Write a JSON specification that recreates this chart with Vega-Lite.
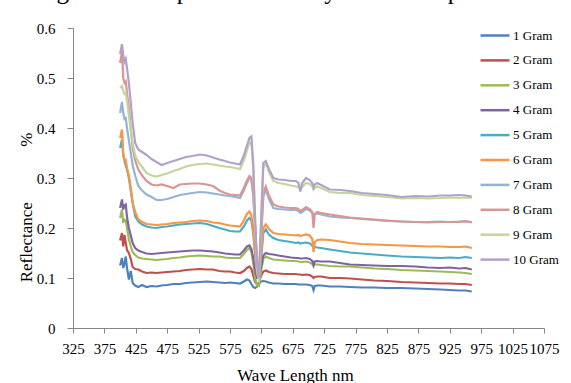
{
"$schema": "https://vega.github.io/schema/vega-lite/v6.json",
"width": 471, "height": 300,
"autosize": {"type": "none"},
"padding": {"left": 73, "top": 28, "right": 27, "bottom": 55},
"background": "white",
"config": {"view": {"stroke": null}, "font": "Liberation Serif, DejaVu Serif, serif"},
"title": {"text": "of magnesium sulphate. This may due to the presence of", "anchor": "start", "frame": "group", "fontSize": 25, "fontWeight": "normal", "font": "Liberation Serif, DejaVu Serif, serif", "color": "#000000", "baseline": "alphabetic", "offset": 5, "dy": 8, "dx": -74},
"data": {"values": [
{"w":400,"s":"1 Gram","v":0.125},{"w":403,"s":"1 Gram","v":0.14},{"w":405,"s":"1 Gram","v":0.12},{"w":407,"s":"1 Gram","v":0.128},{"w":409,"s":"1 Gram","v":0.143},{"w":411,"s":"1 Gram","v":0.12},{"w":414,"s":"1 Gram","v":0.097},{"w":417,"s":"1 Gram","v":0.114},{"w":420,"s":"1 Gram","v":0.09},{"w":424,"s":"1 Gram","v":0.085},
{"w":429,"s":"1 Gram","v":0.082},{"w":435,"s":"1 Gram","v":0.086},{"w":442,"s":"1 Gram","v":0.082},{"w":450,"s":"1 Gram","v":0.084},{"w":458,"s":"1 Gram","v":0.083},{"w":466,"s":"1 Gram","v":0.085},{"w":475,"s":"1 Gram","v":0.086},{"w":485,"s":"1 Gram","v":0.088},{"w":495,"s":"1 Gram","v":0.088},{"w":505,"s":"1 Gram","v":0.09},
{"w":515,"s":"1 Gram","v":0.091},{"w":527,"s":"1 Gram","v":0.092},{"w":538,"s":"1 Gram","v":0.093},{"w":548,"s":"1 Gram","v":0.092},{"w":558,"s":"1 Gram","v":0.091},{"w":567,"s":"1 Gram","v":0.09},{"w":575,"s":"1 Gram","v":0.091},{"w":583,"s":"1 Gram","v":0.09},{"w":591,"s":"1 Gram","v":0.089},{"w":597,"s":"1 Gram","v":0.093},
{"w":602,"s":"1 Gram","v":0.097},{"w":606,"s":"1 Gram","v":0.095},{"w":609,"s":"1 Gram","v":0.088},{"w":612,"s":"1 Gram","v":0.082},{"w":615,"s":"1 Gram","v":0.08},{"w":618,"s":"1 Gram","v":0.083},{"w":621,"s":"1 Gram","v":0.088},{"w":624,"s":"1 Gram","v":0.093},{"w":628,"s":"1 Gram","v":0.094},{"w":632,"s":"1 Gram","v":0.093},
{"w":637,"s":"1 Gram","v":0.091},{"w":644,"s":"1 Gram","v":0.089},{"w":652,"s":"1 Gram","v":0.089},{"w":662,"s":"1 Gram","v":0.088},{"w":672,"s":"1 Gram","v":0.088},{"w":680,"s":"1 Gram","v":0.088},{"w":684,"s":"1 Gram","v":0.087},{"w":687,"s":"1 Gram","v":0.087},{"w":690,"s":"1 Gram","v":0.087},{"w":696,"s":"1 Gram","v":0.087},
{"w":702,"s":"1 Gram","v":0.086},{"w":706,"s":"1 Gram","v":0.084},{"w":708,"s":"1 Gram","v":0.076},{"w":710,"s":"1 Gram","v":0.084},{"w":714,"s":"1 Gram","v":0.085},{"w":720,"s":"1 Gram","v":0.085},{"w":734,"s":"1 Gram","v":0.083},{"w":750,"s":"1 Gram","v":0.083},{"w":766,"s":"1 Gram","v":0.082},{"w":785,"s":"1 Gram","v":0.081},
{"w":805,"s":"1 Gram","v":0.081},{"w":825,"s":"1 Gram","v":0.08},{"w":848,"s":"1 Gram","v":0.08},{"w":870,"s":"1 Gram","v":0.079},{"w":890,"s":"1 Gram","v":0.078},{"w":910,"s":"1 Gram","v":0.077},{"w":925,"s":"1 Gram","v":0.076},{"w":940,"s":"1 Gram","v":0.075},{"w":950,"s":"1 Gram","v":0.075},{"w":960,"s":"1 Gram","v":0.073},

{"w":400,"s":"2 Gram","v":0.175},{"w":403,"s":"2 Gram","v":0.19},{"w":405,"s":"2 Gram","v":0.163},{"w":407,"s":"2 Gram","v":0.186},{"w":409,"s":"2 Gram","v":0.17},{"w":411,"s":"2 Gram","v":0.156},{"w":414,"s":"2 Gram","v":0.15},{"w":417,"s":"2 Gram","v":0.138},{"w":420,"s":"2 Gram","v":0.122},{"w":424,"s":"2 Gram","v":0.118},
{"w":429,"s":"2 Gram","v":0.117},{"w":435,"s":"2 Gram","v":0.113},{"w":442,"s":"2 Gram","v":0.11},{"w":450,"s":"2 Gram","v":0.111},{"w":458,"s":"2 Gram","v":0.11},{"w":466,"s":"2 Gram","v":0.111},{"w":475,"s":"2 Gram","v":0.112},{"w":485,"s":"2 Gram","v":0.113},{"w":495,"s":"2 Gram","v":0.114},{"w":505,"s":"2 Gram","v":0.116},
{"w":515,"s":"2 Gram","v":0.117},{"w":527,"s":"2 Gram","v":0.118},{"w":538,"s":"2 Gram","v":0.117},{"w":548,"s":"2 Gram","v":0.117},{"w":558,"s":"2 Gram","v":0.114},{"w":567,"s":"2 Gram","v":0.113},{"w":575,"s":"2 Gram","v":0.113},{"w":583,"s":"2 Gram","v":0.111},{"w":591,"s":"2 Gram","v":0.11},{"w":597,"s":"2 Gram","v":0.114},
{"w":602,"s":"2 Gram","v":0.12},{"w":606,"s":"2 Gram","v":0.123},{"w":609,"s":"2 Gram","v":0.118},{"w":612,"s":"2 Gram","v":0.105},{"w":615,"s":"2 Gram","v":0.092},{"w":618,"s":"2 Gram","v":0.088},{"w":621,"s":"2 Gram","v":0.09},{"w":624,"s":"2 Gram","v":0.103},{"w":628,"s":"2 Gram","v":0.113},{"w":632,"s":"2 Gram","v":0.115},
{"w":637,"s":"2 Gram","v":0.112},{"w":644,"s":"2 Gram","v":0.11},{"w":652,"s":"2 Gram","v":0.109},{"w":662,"s":"2 Gram","v":0.108},{"w":672,"s":"2 Gram","v":0.108},{"w":680,"s":"2 Gram","v":0.108},{"w":684,"s":"2 Gram","v":0.107},{"w":687,"s":"2 Gram","v":0.107},{"w":690,"s":"2 Gram","v":0.106},{"w":696,"s":"2 Gram","v":0.107},
{"w":702,"s":"2 Gram","v":0.106},{"w":706,"s":"2 Gram","v":0.103},{"w":708,"s":"2 Gram","v":0.1},{"w":710,"s":"2 Gram","v":0.102},{"w":714,"s":"2 Gram","v":0.103},{"w":720,"s":"2 Gram","v":0.103},{"w":734,"s":"2 Gram","v":0.1},{"w":750,"s":"2 Gram","v":0.1},{"w":766,"s":"2 Gram","v":0.099},{"w":785,"s":"2 Gram","v":0.097},
{"w":805,"s":"2 Gram","v":0.095},{"w":825,"s":"2 Gram","v":0.094},{"w":848,"s":"2 Gram","v":0.092},{"w":870,"s":"2 Gram","v":0.091},{"w":890,"s":"2 Gram","v":0.09},{"w":910,"s":"2 Gram","v":0.089},{"w":925,"s":"2 Gram","v":0.089},{"w":940,"s":"2 Gram","v":0.088},{"w":950,"s":"2 Gram","v":0.088},{"w":960,"s":"2 Gram","v":0.086},

{"w":400,"s":"3 Gram","v":0.22},{"w":403,"s":"3 Gram","v":0.237},{"w":405,"s":"3 Gram","v":0.21},{"w":407,"s":"3 Gram","v":0.217},{"w":409,"s":"3 Gram","v":0.215},{"w":411,"s":"3 Gram","v":0.2},{"w":414,"s":"3 Gram","v":0.177},{"w":417,"s":"3 Gram","v":0.163},{"w":420,"s":"3 Gram","v":0.152},{"w":424,"s":"3 Gram","v":0.146},
{"w":429,"s":"3 Gram","v":0.141},{"w":435,"s":"3 Gram","v":0.139},{"w":442,"s":"3 Gram","v":0.138},{"w":450,"s":"3 Gram","v":0.137},{"w":458,"s":"3 Gram","v":0.136},{"w":466,"s":"3 Gram","v":0.137},{"w":475,"s":"3 Gram","v":0.138},{"w":485,"s":"3 Gram","v":0.14},{"w":495,"s":"3 Gram","v":0.141},{"w":505,"s":"3 Gram","v":0.143},
{"w":515,"s":"3 Gram","v":0.144},{"w":527,"s":"3 Gram","v":0.145},{"w":538,"s":"3 Gram","v":0.144},{"w":548,"s":"3 Gram","v":0.143},{"w":558,"s":"3 Gram","v":0.143},{"w":567,"s":"3 Gram","v":0.141},{"w":575,"s":"3 Gram","v":0.14},{"w":583,"s":"3 Gram","v":0.14},{"w":591,"s":"3 Gram","v":0.14},{"w":597,"s":"3 Gram","v":0.148},
{"w":602,"s":"3 Gram","v":0.156},{"w":606,"s":"3 Gram","v":0.16},{"w":609,"s":"3 Gram","v":0.152},{"w":612,"s":"3 Gram","v":0.13},{"w":615,"s":"3 Gram","v":0.1},{"w":618,"s":"3 Gram","v":0.085},{"w":621,"s":"3 Gram","v":0.084},{"w":624,"s":"3 Gram","v":0.11},{"w":628,"s":"3 Gram","v":0.138},{"w":632,"s":"3 Gram","v":0.143},
{"w":637,"s":"3 Gram","v":0.14},{"w":644,"s":"3 Gram","v":0.137},{"w":652,"s":"3 Gram","v":0.136},{"w":662,"s":"3 Gram","v":0.135},{"w":672,"s":"3 Gram","v":0.134},{"w":680,"s":"3 Gram","v":0.134},{"w":684,"s":"3 Gram","v":0.133},{"w":687,"s":"3 Gram","v":0.132},{"w":690,"s":"3 Gram","v":0.132},{"w":696,"s":"3 Gram","v":0.133},
{"w":702,"s":"3 Gram","v":0.131},{"w":706,"s":"3 Gram","v":0.128},{"w":708,"s":"3 Gram","v":0.125},{"w":710,"s":"3 Gram","v":0.127},{"w":714,"s":"3 Gram","v":0.127},{"w":720,"s":"3 Gram","v":0.126},{"w":734,"s":"3 Gram","v":0.124},{"w":750,"s":"3 Gram","v":0.123},{"w":766,"s":"3 Gram","v":0.123},{"w":785,"s":"3 Gram","v":0.121},
{"w":805,"s":"3 Gram","v":0.119},{"w":825,"s":"3 Gram","v":0.118},{"w":848,"s":"3 Gram","v":0.116},{"w":870,"s":"3 Gram","v":0.115},{"w":890,"s":"3 Gram","v":0.114},{"w":910,"s":"3 Gram","v":0.113},{"w":925,"s":"3 Gram","v":0.112},{"w":940,"s":"3 Gram","v":0.111},{"w":950,"s":"3 Gram","v":0.11},{"w":960,"s":"3 Gram","v":0.108},

{"w":400,"s":"4 Gram","v":0.24},{"w":403,"s":"4 Gram","v":0.257},{"w":405,"s":"4 Gram","v":0.237},{"w":407,"s":"4 Gram","v":0.245},{"w":409,"s":"4 Gram","v":0.247},{"w":411,"s":"4 Gram","v":0.222},{"w":414,"s":"4 Gram","v":0.2},{"w":417,"s":"4 Gram","v":0.185},{"w":420,"s":"4 Gram","v":0.17},{"w":424,"s":"4 Gram","v":0.16},
{"w":429,"s":"4 Gram","v":0.155},{"w":435,"s":"4 Gram","v":0.152},{"w":442,"s":"4 Gram","v":0.149},{"w":450,"s":"4 Gram","v":0.148},{"w":458,"s":"4 Gram","v":0.149},{"w":466,"s":"4 Gram","v":0.15},{"w":475,"s":"4 Gram","v":0.151},{"w":485,"s":"4 Gram","v":0.152},{"w":495,"s":"4 Gram","v":0.153},{"w":505,"s":"4 Gram","v":0.154},
{"w":515,"s":"4 Gram","v":0.155},{"w":527,"s":"4 Gram","v":0.155},{"w":538,"s":"4 Gram","v":0.154},{"w":548,"s":"4 Gram","v":0.153},{"w":558,"s":"4 Gram","v":0.151},{"w":567,"s":"4 Gram","v":0.149},{"w":575,"s":"4 Gram","v":0.148},{"w":583,"s":"4 Gram","v":0.147},{"w":591,"s":"4 Gram","v":0.147},{"w":597,"s":"4 Gram","v":0.155},
{"w":602,"s":"4 Gram","v":0.163},{"w":606,"s":"4 Gram","v":0.165},{"w":609,"s":"4 Gram","v":0.158},{"w":612,"s":"4 Gram","v":0.14},{"w":615,"s":"4 Gram","v":0.115},{"w":618,"s":"4 Gram","v":0.1},{"w":621,"s":"4 Gram","v":0.1},{"w":624,"s":"4 Gram","v":0.12},{"w":628,"s":"4 Gram","v":0.145},{"w":632,"s":"4 Gram","v":0.15},
{"w":637,"s":"4 Gram","v":0.148},{"w":644,"s":"4 Gram","v":0.147},{"w":652,"s":"4 Gram","v":0.145},{"w":662,"s":"4 Gram","v":0.143},{"w":672,"s":"4 Gram","v":0.141},{"w":680,"s":"4 Gram","v":0.14},{"w":684,"s":"4 Gram","v":0.14},{"w":687,"s":"4 Gram","v":0.139},{"w":690,"s":"4 Gram","v":0.139},{"w":696,"s":"4 Gram","v":0.14},
{"w":702,"s":"4 Gram","v":0.138},{"w":706,"s":"4 Gram","v":0.134},{"w":708,"s":"4 Gram","v":0.125},{"w":710,"s":"4 Gram","v":0.133},{"w":714,"s":"4 Gram","v":0.134},{"w":720,"s":"4 Gram","v":0.133},{"w":734,"s":"4 Gram","v":0.133},{"w":750,"s":"4 Gram","v":0.13},{"w":766,"s":"4 Gram","v":0.127},{"w":785,"s":"4 Gram","v":0.126},
{"w":805,"s":"4 Gram","v":0.125},{"w":825,"s":"4 Gram","v":0.124},{"w":848,"s":"4 Gram","v":0.124},{"w":870,"s":"4 Gram","v":0.123},{"w":890,"s":"4 Gram","v":0.121},{"w":910,"s":"4 Gram","v":0.12},{"w":925,"s":"4 Gram","v":0.121},{"w":940,"s":"4 Gram","v":0.119},{"w":950,"s":"4 Gram","v":0.12},{"w":960,"s":"4 Gram","v":0.117},

{"w":400,"s":"5 Gram","v":0.36},{"w":403,"s":"5 Gram","v":0.377},{"w":405,"s":"5 Gram","v":0.345},{"w":407,"s":"5 Gram","v":0.335},{"w":409,"s":"5 Gram","v":0.325},{"w":411,"s":"5 Gram","v":0.317},{"w":414,"s":"5 Gram","v":0.3},{"w":417,"s":"5 Gram","v":0.275},{"w":420,"s":"5 Gram","v":0.25},{"w":424,"s":"5 Gram","v":0.224},
{"w":429,"s":"5 Gram","v":0.213},{"w":435,"s":"5 Gram","v":0.207},{"w":442,"s":"5 Gram","v":0.203},{"w":450,"s":"5 Gram","v":0.201},{"w":458,"s":"5 Gram","v":0.2},{"w":466,"s":"5 Gram","v":0.202},{"w":475,"s":"5 Gram","v":0.203},{"w":485,"s":"5 Gram","v":0.205},{"w":495,"s":"5 Gram","v":0.207},{"w":505,"s":"5 Gram","v":0.208},
{"w":515,"s":"5 Gram","v":0.209},{"w":527,"s":"5 Gram","v":0.21},{"w":538,"s":"5 Gram","v":0.208},{"w":548,"s":"5 Gram","v":0.204},{"w":558,"s":"5 Gram","v":0.2},{"w":567,"s":"5 Gram","v":0.197},{"w":575,"s":"5 Gram","v":0.194},{"w":583,"s":"5 Gram","v":0.193},{"w":591,"s":"5 Gram","v":0.193},{"w":597,"s":"5 Gram","v":0.203},
{"w":602,"s":"5 Gram","v":0.215},{"w":606,"s":"5 Gram","v":0.22},{"w":609,"s":"5 Gram","v":0.215},{"w":612,"s":"5 Gram","v":0.19},{"w":615,"s":"5 Gram","v":0.145},{"w":618,"s":"5 Gram","v":0.11},{"w":621,"s":"5 Gram","v":0.1},{"w":624,"s":"5 Gram","v":0.13},{"w":628,"s":"5 Gram","v":0.19},{"w":632,"s":"5 Gram","v":0.197},
{"w":637,"s":"5 Gram","v":0.187},{"w":644,"s":"5 Gram","v":0.18},{"w":652,"s":"5 Gram","v":0.176},{"w":662,"s":"5 Gram","v":0.174},{"w":672,"s":"5 Gram","v":0.172},{"w":680,"s":"5 Gram","v":0.17},{"w":684,"s":"5 Gram","v":0.171},{"w":687,"s":"5 Gram","v":0.169},{"w":690,"s":"5 Gram","v":0.17},{"w":696,"s":"5 Gram","v":0.171},
{"w":702,"s":"5 Gram","v":0.169},{"w":706,"s":"5 Gram","v":0.165},{"w":708,"s":"5 Gram","v":0.16},{"w":710,"s":"5 Gram","v":0.162},{"w":714,"s":"5 Gram","v":0.161},{"w":720,"s":"5 Gram","v":0.16},{"w":734,"s":"5 Gram","v":0.157},{"w":750,"s":"5 Gram","v":0.154},{"w":766,"s":"5 Gram","v":0.151},{"w":785,"s":"5 Gram","v":0.149},
{"w":805,"s":"5 Gram","v":0.147},{"w":825,"s":"5 Gram","v":0.145},{"w":848,"s":"5 Gram","v":0.143},{"w":870,"s":"5 Gram","v":0.142},{"w":890,"s":"5 Gram","v":0.141},{"w":910,"s":"5 Gram","v":0.14},{"w":925,"s":"5 Gram","v":0.141},{"w":940,"s":"5 Gram","v":0.14},{"w":950,"s":"5 Gram","v":0.142},{"w":960,"s":"5 Gram","v":0.14},

{"w":400,"s":"6 Gram","v":0.38},{"w":403,"s":"6 Gram","v":0.397},{"w":405,"s":"6 Gram","v":0.35},{"w":407,"s":"6 Gram","v":0.334},{"w":409,"s":"6 Gram","v":0.336},{"w":411,"s":"6 Gram","v":0.32},{"w":414,"s":"6 Gram","v":0.305},{"w":417,"s":"6 Gram","v":0.28},{"w":420,"s":"6 Gram","v":0.25},{"w":424,"s":"6 Gram","v":0.232},
{"w":429,"s":"6 Gram","v":0.217},{"w":435,"s":"6 Gram","v":0.212},{"w":442,"s":"6 Gram","v":0.208},{"w":450,"s":"6 Gram","v":0.207},{"w":458,"s":"6 Gram","v":0.206},{"w":466,"s":"6 Gram","v":0.207},{"w":475,"s":"6 Gram","v":0.208},{"w":485,"s":"6 Gram","v":0.21},{"w":495,"s":"6 Gram","v":0.211},{"w":505,"s":"6 Gram","v":0.212},
{"w":515,"s":"6 Gram","v":0.214},{"w":527,"s":"6 Gram","v":0.215},{"w":538,"s":"6 Gram","v":0.214},{"w":548,"s":"6 Gram","v":0.211},{"w":558,"s":"6 Gram","v":0.21},{"w":567,"s":"6 Gram","v":0.207},{"w":575,"s":"6 Gram","v":0.205},{"w":583,"s":"6 Gram","v":0.204},{"w":591,"s":"6 Gram","v":0.203},{"w":597,"s":"6 Gram","v":0.215},
{"w":602,"s":"6 Gram","v":0.228},{"w":606,"s":"6 Gram","v":0.233},{"w":609,"s":"6 Gram","v":0.226},{"w":612,"s":"6 Gram","v":0.2},{"w":615,"s":"6 Gram","v":0.15},{"w":618,"s":"6 Gram","v":0.11},{"w":621,"s":"6 Gram","v":0.1},{"w":624,"s":"6 Gram","v":0.14},{"w":628,"s":"6 Gram","v":0.2},{"w":632,"s":"6 Gram","v":0.207},
{"w":637,"s":"6 Gram","v":0.198},{"w":644,"s":"6 Gram","v":0.19},{"w":652,"s":"6 Gram","v":0.188},{"w":662,"s":"6 Gram","v":0.187},{"w":672,"s":"6 Gram","v":0.186},{"w":680,"s":"6 Gram","v":0.185},{"w":684,"s":"6 Gram","v":0.186},{"w":687,"s":"6 Gram","v":0.184},{"w":690,"s":"6 Gram","v":0.185},{"w":696,"s":"6 Gram","v":0.187},
{"w":702,"s":"6 Gram","v":0.185},{"w":706,"s":"6 Gram","v":0.178},{"w":708,"s":"6 Gram","v":0.152},{"w":710,"s":"6 Gram","v":0.172},{"w":714,"s":"6 Gram","v":0.176},{"w":720,"s":"6 Gram","v":0.177},{"w":734,"s":"6 Gram","v":0.176},{"w":750,"s":"6 Gram","v":0.173},{"w":766,"s":"6 Gram","v":0.17},{"w":785,"s":"6 Gram","v":0.168},
{"w":805,"s":"6 Gram","v":0.167},{"w":825,"s":"6 Gram","v":0.166},{"w":848,"s":"6 Gram","v":0.165},{"w":870,"s":"6 Gram","v":0.164},{"w":890,"s":"6 Gram","v":0.163},{"w":910,"s":"6 Gram","v":0.163},{"w":925,"s":"6 Gram","v":0.162},{"w":940,"s":"6 Gram","v":0.162},{"w":950,"s":"6 Gram","v":0.163},{"w":960,"s":"6 Gram","v":0.16},

{"w":400,"s":"7 Gram","v":0.43},{"w":403,"s":"7 Gram","v":0.452},{"w":405,"s":"7 Gram","v":0.43},{"w":407,"s":"7 Gram","v":0.418},{"w":409,"s":"7 Gram","v":0.42},{"w":411,"s":"7 Gram","v":0.4},{"w":414,"s":"7 Gram","v":0.375},{"w":417,"s":"7 Gram","v":0.35},{"w":420,"s":"7 Gram","v":0.325},{"w":424,"s":"7 Gram","v":0.305},
{"w":429,"s":"7 Gram","v":0.284},{"w":435,"s":"7 Gram","v":0.275},{"w":442,"s":"7 Gram","v":0.267},{"w":450,"s":"7 Gram","v":0.262},{"w":458,"s":"7 Gram","v":0.256},{"w":466,"s":"7 Gram","v":0.256},{"w":475,"s":"7 Gram","v":0.258},{"w":485,"s":"7 Gram","v":0.262},{"w":495,"s":"7 Gram","v":0.266},{"w":505,"s":"7 Gram","v":0.268},
{"w":515,"s":"7 Gram","v":0.27},{"w":527,"s":"7 Gram","v":0.272},{"w":538,"s":"7 Gram","v":0.271},{"w":548,"s":"7 Gram","v":0.269},{"w":558,"s":"7 Gram","v":0.267},{"w":567,"s":"7 Gram","v":0.265},{"w":575,"s":"7 Gram","v":0.264},{"w":583,"s":"7 Gram","v":0.262},{"w":591,"s":"7 Gram","v":0.26},{"w":597,"s":"7 Gram","v":0.275},
{"w":602,"s":"7 Gram","v":0.29},{"w":606,"s":"7 Gram","v":0.3},{"w":609,"s":"7 Gram","v":0.297},{"w":612,"s":"7 Gram","v":0.265},{"w":615,"s":"7 Gram","v":0.2},{"w":618,"s":"7 Gram","v":0.13},{"w":621,"s":"7 Gram","v":0.1},{"w":624,"s":"7 Gram","v":0.165},{"w":628,"s":"7 Gram","v":0.262},{"w":632,"s":"7 Gram","v":0.277},
{"w":637,"s":"7 Gram","v":0.258},{"w":644,"s":"7 Gram","v":0.24},{"w":652,"s":"7 Gram","v":0.238},{"w":662,"s":"7 Gram","v":0.237},{"w":672,"s":"7 Gram","v":0.236},{"w":680,"s":"7 Gram","v":0.236},{"w":684,"s":"7 Gram","v":0.234},{"w":687,"s":"7 Gram","v":0.23},{"w":690,"s":"7 Gram","v":0.232},{"w":696,"s":"7 Gram","v":0.238},
{"w":702,"s":"7 Gram","v":0.235},{"w":706,"s":"7 Gram","v":0.23},{"w":708,"s":"7 Gram","v":0.224},{"w":710,"s":"7 Gram","v":0.228},{"w":714,"s":"7 Gram","v":0.229},{"w":720,"s":"7 Gram","v":0.227},{"w":734,"s":"7 Gram","v":0.223},{"w":750,"s":"7 Gram","v":0.221},{"w":766,"s":"7 Gram","v":0.22},{"w":785,"s":"7 Gram","v":0.218},
{"w":805,"s":"7 Gram","v":0.216},{"w":825,"s":"7 Gram","v":0.214},{"w":848,"s":"7 Gram","v":0.213},{"w":870,"s":"7 Gram","v":0.212},{"w":890,"s":"7 Gram","v":0.212},{"w":910,"s":"7 Gram","v":0.213},{"w":925,"s":"7 Gram","v":0.212},{"w":940,"s":"7 Gram","v":0.213},{"w":950,"s":"7 Gram","v":0.214},{"w":960,"s":"7 Gram","v":0.212},

{"w":400,"s":"8 Gram","v":0.53},{"w":403,"s":"8 Gram","v":0.552},{"w":405,"s":"8 Gram","v":0.5},{"w":407,"s":"8 Gram","v":0.49},{"w":409,"s":"8 Gram","v":0.493},{"w":411,"s":"8 Gram","v":0.47},{"w":414,"s":"8 Gram","v":0.44},{"w":417,"s":"8 Gram","v":0.4},{"w":420,"s":"8 Gram","v":0.36},{"w":424,"s":"8 Gram","v":0.335},
{"w":429,"s":"8 Gram","v":0.317},{"w":435,"s":"8 Gram","v":0.305},{"w":442,"s":"8 Gram","v":0.294},{"w":450,"s":"8 Gram","v":0.287},{"w":458,"s":"8 Gram","v":0.285},{"w":466,"s":"8 Gram","v":0.287},{"w":475,"s":"8 Gram","v":0.284},{"w":485,"s":"8 Gram","v":0.28},{"w":495,"s":"8 Gram","v":0.287},{"w":505,"s":"8 Gram","v":0.288},
{"w":515,"s":"8 Gram","v":0.289},{"w":527,"s":"8 Gram","v":0.289},{"w":538,"s":"8 Gram","v":0.287},{"w":548,"s":"8 Gram","v":0.284},{"w":558,"s":"8 Gram","v":0.275},{"w":567,"s":"8 Gram","v":0.27},{"w":575,"s":"8 Gram","v":0.267},{"w":583,"s":"8 Gram","v":0.266},{"w":591,"s":"8 Gram","v":0.265},{"w":597,"s":"8 Gram","v":0.28},
{"w":602,"s":"8 Gram","v":0.295},{"w":606,"s":"8 Gram","v":0.304},{"w":609,"s":"8 Gram","v":0.3},{"w":612,"s":"8 Gram","v":0.27},{"w":615,"s":"8 Gram","v":0.2},{"w":618,"s":"8 Gram","v":0.13},{"w":621,"s":"8 Gram","v":0.105},{"w":624,"s":"8 Gram","v":0.17},{"w":628,"s":"8 Gram","v":0.27},{"w":632,"s":"8 Gram","v":0.283},
{"w":637,"s":"8 Gram","v":0.265},{"w":644,"s":"8 Gram","v":0.247},{"w":652,"s":"8 Gram","v":0.243},{"w":662,"s":"8 Gram","v":0.241},{"w":672,"s":"8 Gram","v":0.24},{"w":680,"s":"8 Gram","v":0.24},{"w":684,"s":"8 Gram","v":0.238},{"w":687,"s":"8 Gram","v":0.234},{"w":690,"s":"8 Gram","v":0.236},{"w":696,"s":"8 Gram","v":0.242},
{"w":702,"s":"8 Gram","v":0.238},{"w":706,"s":"8 Gram","v":0.232},{"w":708,"s":"8 Gram","v":0.2},{"w":710,"s":"8 Gram","v":0.228},{"w":714,"s":"8 Gram","v":0.232},{"w":720,"s":"8 Gram","v":0.23},{"w":734,"s":"8 Gram","v":0.227},{"w":750,"s":"8 Gram","v":0.224},{"w":766,"s":"8 Gram","v":0.221},{"w":785,"s":"8 Gram","v":0.219},
{"w":805,"s":"8 Gram","v":0.217},{"w":825,"s":"8 Gram","v":0.215},{"w":848,"s":"8 Gram","v":0.213},{"w":870,"s":"8 Gram","v":0.212},{"w":890,"s":"8 Gram","v":0.211},{"w":910,"s":"8 Gram","v":0.212},{"w":925,"s":"8 Gram","v":0.212},{"w":940,"s":"8 Gram","v":0.212},{"w":950,"s":"8 Gram","v":0.213},{"w":960,"s":"8 Gram","v":0.211},

{"w":400,"s":"9 Gram","v":0.48},{"w":403,"s":"9 Gram","v":0.484},{"w":405,"s":"9 Gram","v":0.475},{"w":407,"s":"9 Gram","v":0.468},{"w":409,"s":"9 Gram","v":0.47},{"w":411,"s":"9 Gram","v":0.455},{"w":414,"s":"9 Gram","v":0.425},{"w":417,"s":"9 Gram","v":0.395},{"w":420,"s":"9 Gram","v":0.37},{"w":424,"s":"9 Gram","v":0.345},
{"w":429,"s":"9 Gram","v":0.332},{"w":435,"s":"9 Gram","v":0.322},{"w":442,"s":"9 Gram","v":0.31},{"w":450,"s":"9 Gram","v":0.305},{"w":458,"s":"9 Gram","v":0.303},{"w":466,"s":"9 Gram","v":0.306},{"w":475,"s":"9 Gram","v":0.309},{"w":485,"s":"9 Gram","v":0.314},{"w":495,"s":"9 Gram","v":0.318},{"w":505,"s":"9 Gram","v":0.323},
{"w":515,"s":"9 Gram","v":0.326},{"w":527,"s":"9 Gram","v":0.328},{"w":538,"s":"9 Gram","v":0.329},{"w":548,"s":"9 Gram","v":0.327},{"w":558,"s":"9 Gram","v":0.325},{"w":567,"s":"9 Gram","v":0.323},{"w":575,"s":"9 Gram","v":0.322},{"w":583,"s":"9 Gram","v":0.32},{"w":591,"s":"9 Gram","v":0.318},{"w":597,"s":"9 Gram","v":0.335},
{"w":602,"s":"9 Gram","v":0.355},{"w":606,"s":"9 Gram","v":0.37},{"w":609,"s":"9 Gram","v":0.372},{"w":612,"s":"9 Gram","v":0.32},{"w":615,"s":"9 Gram","v":0.21},{"w":618,"s":"9 Gram","v":0.12},{"w":621,"s":"9 Gram","v":0.092},{"w":624,"s":"9 Gram","v":0.19},{"w":628,"s":"9 Gram","v":0.32},{"w":632,"s":"9 Gram","v":0.33},
{"w":637,"s":"9 Gram","v":0.312},{"w":644,"s":"9 Gram","v":0.294},{"w":652,"s":"9 Gram","v":0.29},{"w":662,"s":"9 Gram","v":0.288},{"w":672,"s":"9 Gram","v":0.285},{"w":680,"s":"9 Gram","v":0.283},{"w":684,"s":"9 Gram","v":0.282},{"w":687,"s":"9 Gram","v":0.278},{"w":690,"s":"9 Gram","v":0.282},{"w":696,"s":"9 Gram","v":0.29},
{"w":702,"s":"9 Gram","v":0.288},{"w":706,"s":"9 Gram","v":0.283},{"w":708,"s":"9 Gram","v":0.277},{"w":710,"s":"9 Gram","v":0.28},{"w":714,"s":"9 Gram","v":0.283},{"w":720,"s":"9 Gram","v":0.28},{"w":734,"s":"9 Gram","v":0.272},{"w":750,"s":"9 Gram","v":0.27},{"w":766,"s":"9 Gram","v":0.27},{"w":785,"s":"9 Gram","v":0.266},
{"w":805,"s":"9 Gram","v":0.264},{"w":825,"s":"9 Gram","v":0.262},{"w":848,"s":"9 Gram","v":0.259},{"w":870,"s":"9 Gram","v":0.26},{"w":890,"s":"9 Gram","v":0.259},{"w":910,"s":"9 Gram","v":0.26},{"w":925,"s":"9 Gram","v":0.261},{"w":940,"s":"9 Gram","v":0.26},{"w":950,"s":"9 Gram","v":0.261},{"w":960,"s":"9 Gram","v":0.26},

{"w":400,"s":"10 Gram","v":0.548},{"w":403,"s":"10 Gram","v":0.568},{"w":405,"s":"10 Gram","v":0.545},{"w":407,"s":"10 Gram","v":0.532},{"w":409,"s":"10 Gram","v":0.538},{"w":411,"s":"10 Gram","v":0.52},{"w":414,"s":"10 Gram","v":0.49},{"w":417,"s":"10 Gram","v":0.45},{"w":420,"s":"10 Gram","v":0.41},{"w":424,"s":"10 Gram","v":0.37},
{"w":429,"s":"10 Gram","v":0.357},{"w":435,"s":"10 Gram","v":0.352},{"w":442,"s":"10 Gram","v":0.346},{"w":450,"s":"10 Gram","v":0.338},{"w":458,"s":"10 Gram","v":0.332},{"w":466,"s":"10 Gram","v":0.326},{"w":475,"s":"10 Gram","v":0.33},{"w":485,"s":"10 Gram","v":0.334},{"w":495,"s":"10 Gram","v":0.338},{"w":505,"s":"10 Gram","v":0.342},
{"w":515,"s":"10 Gram","v":0.344},{"w":527,"s":"10 Gram","v":0.347},{"w":538,"s":"10 Gram","v":0.345},{"w":548,"s":"10 Gram","v":0.341},{"w":558,"s":"10 Gram","v":0.337},{"w":567,"s":"10 Gram","v":0.334},{"w":575,"s":"10 Gram","v":0.331},{"w":583,"s":"10 Gram","v":0.329},{"w":591,"s":"10 Gram","v":0.327},{"w":597,"s":"10 Gram","v":0.345},
{"w":602,"s":"10 Gram","v":0.365},{"w":606,"s":"10 Gram","v":0.38},{"w":609,"s":"10 Gram","v":0.383},{"w":612,"s":"10 Gram","v":0.33},{"w":615,"s":"10 Gram","v":0.22},{"w":618,"s":"10 Gram","v":0.13},{"w":621,"s":"10 Gram","v":0.1},{"w":624,"s":"10 Gram","v":0.2},{"w":628,"s":"10 Gram","v":0.33},{"w":632,"s":"10 Gram","v":0.334},
{"w":637,"s":"10 Gram","v":0.318},{"w":644,"s":"10 Gram","v":0.3},{"w":652,"s":"10 Gram","v":0.297},{"w":662,"s":"10 Gram","v":0.296},{"w":672,"s":"10 Gram","v":0.294},{"w":680,"s":"10 Gram","v":0.294},{"w":684,"s":"10 Gram","v":0.29},{"w":687,"s":"10 Gram","v":0.273},{"w":690,"s":"10 Gram","v":0.29},{"w":696,"s":"10 Gram","v":0.3},
{"w":702,"s":"10 Gram","v":0.296},{"w":706,"s":"10 Gram","v":0.29},{"w":708,"s":"10 Gram","v":0.281},{"w":710,"s":"10 Gram","v":0.287},{"w":714,"s":"10 Gram","v":0.29},{"w":720,"s":"10 Gram","v":0.286},{"w":734,"s":"10 Gram","v":0.277},{"w":750,"s":"10 Gram","v":0.276},{"w":766,"s":"10 Gram","v":0.274},{"w":785,"s":"10 Gram","v":0.27},
{"w":805,"s":"10 Gram","v":0.268},{"w":825,"s":"10 Gram","v":0.266},{"w":848,"s":"10 Gram","v":0.262},{"w":870,"s":"10 Gram","v":0.264},{"w":890,"s":"10 Gram","v":0.263},{"w":910,"s":"10 Gram","v":0.265},{"w":925,"s":"10 Gram","v":0.265},{"w":940,"s":"10 Gram","v":0.266},{"w":950,"s":"10 Gram","v":0.265},{"w":960,"s":"10 Gram","v":0.263}
]},
"mark": {"type": "line", "strokeWidth": 2.2},
"encoding": {
  "x": {"field": "w", "type": "quantitative",
        "scale": {"domain": [325, 1075], "nice": false, "zero": false},
        "axis": {"values": [325,375,425,475,525,575,625,675,725,775,825,875,925,975,1025,1075], "format": "d",
                 "title": "Wave Length nm", "titleFont": "Liberation Serif, DejaVu Serif, serif", "titleFontSize": 17, "titleFontWeight": "normal", "titleColor": "#000000",
                 "titleX": 222, "titleY": 52, "titleBaseline": "alphabetic", "titleAlign": "center", "titleAnchor": null,
                 "labelFont": "Liberation Serif, DejaVu Serif, serif", "labelFontSize": 15, "labelColor": "#000000", "labelOverlap": false, "labelFlush": false, "labelBound": false, "labelPadding": 8,
                 "tickSize": 5, "tickColor": "#868686", "domainColor": "#868686", "grid": false}},
  "y": {"field": "v", "type": "quantitative",
        "scale": {"domain": [0, 0.6], "nice": false},
        "axis": {"values": [0,0.1,0.2,0.3,0.4,0.5,0.6], "format": "~g",
                 "title": "Reflectance\u00a0\u00a0\u00a0\u00a0\u00a0\u00a0\u00a0\u00a0\u00a0\u00a0\u00a0\u00a0\u00a0%", "titleFont": "Liberation Serif, DejaVu Serif, serif", "titleFontSize": 17, "titleFontWeight": "normal", "titleColor": "#000000",
                 "titleX": -47, "titleY": 179, "titleAngle": 270, "titleAlign": "center", "titleBaseline": "middle", "titleAnchor": null,
                 "labelFont": "Liberation Serif, DejaVu Serif, serif", "labelFontSize": 15, "labelColor": "#000000", "labelPadding": 12, "labelOverlap": false,
                 "tickSize": 6, "tickColor": "#868686", "domainColor": "#868686", "grid": false}},
  "color": {"field": "s", "type": "nominal",
            "scale": {"domain": ["1 Gram","2 Gram","3 Gram","4 Gram","5 Gram","6 Gram","7 Gram","8 Gram","9 Gram","10 Gram"],
                      "range": ["#4F81BD","#C0504D","#9BBB59","#8064A2","#4BACC6","#F79646","#95B3D7","#D99694","#C3D69B","#B3A2C7"]},
            "legend": {"orient": "none", "legendX": 410.5, "legendY": -4, "title": null, "padding": 0,
                       "symbolType": "M-1.45,0H1.45", "symbolSize": 400, "symbolStrokeWidth": 2.5,
                       "labelFont": "Liberation Serif, DejaVu Serif, serif", "labelFontSize": 13, "labelColor": "#000000", "labelOffset": 6.5, "rowPadding": 5.9}}
}
}
